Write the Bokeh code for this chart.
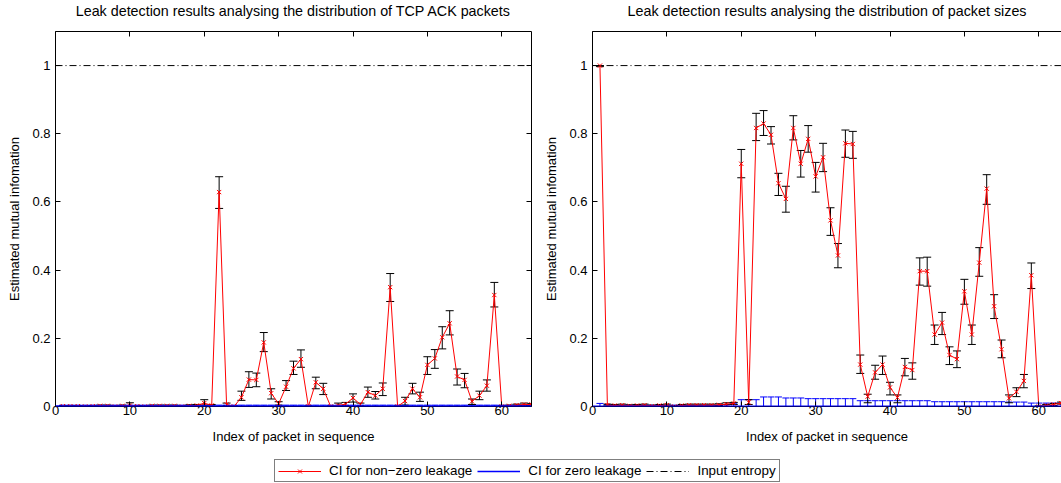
from bokeh.plotting import figure
from bokeh.layouts import column, row
from bokeh.models import (Range1d, LinearAxis, FixedTicker, Span, Legend, LegendItem,
                          ColumnDataSource)
from bokeh.embed import file_html
from bokeh.resources import INLINE

# ---------------- data ----------------
packet_index = list(range(1, 65))

titles = ["Leak detection results analysing the distribution of TCP ACK packets",
          "Leak detection results analysing the distribution of packet sizes"]
x_label = "Index of packet in sequence"
y_label = "Estimated mutual infomation"
legend_labels = ["CI for non\u2212zero leakage", "CI for zero leakage", "Input entropy"]

x_ticks = [0, 10, 20, 30, 40, 50, 60]
x_tick_labels = ["0", "10", "20", "30", "40", "50", "60"]
y_ticks = [0, 0.2, 0.4, 0.6, 0.8, 1]
y_tick_labels = ["0", "0.2", "0.4", "0.6", "0.8", "1"]
input_entropy = 1.0

# TCP ACK panel: estimate, CI lower, CI upper, zero-leakage CI upper
ack_est = [0.001, 0.001, 0.001, 0.000, 0.001, 0.002, 0.002, 0.000, 0.002, 0.003,
           0.001, 0.000, 0.002, 0.002, 0.002, 0.002, 0.000, 0.002, 0.003, 0.010,
           0.003, 0.629, 0.006, 0.000, 0.027, 0.079, 0.078, 0.188, 0.039, 0.008,
           0.058, 0.112, 0.139, 0.000, 0.071, 0.052, 0.000, 0.003, 0.007, 0.025,
           0.006, 0.042, 0.032, 0.052, 0.350, 0.000, 0.016, 0.052, 0.027, 0.122,
           0.141, 0.203, 0.244, 0.088, 0.078, 0.015, 0.032, 0.061, 0.327, 0.000,
           0.002, 0.004, 0.006, 0.006]
ack_lo = [0.000, 0.000, 0.000, 0.000, 0.000, 0.001, 0.001, 0.000, 0.001, 0.000,
          0.000, 0.000, 0.001, 0.001, 0.001, 0.001, 0.000, 0.001, 0.001, 0.004,
          0.001, 0.581, 0.003, 0.000, 0.018, 0.056, 0.058, 0.161, 0.022, 0.004,
          0.047, 0.094, 0.115, 0.000, 0.052, 0.035, 0.000, 0.001, 0.003, 0.013,
          0.002, 0.027, 0.022, 0.032, 0.308, 0.000, 0.004, 0.037, 0.015, 0.094,
          0.112, 0.169, 0.210, 0.063, 0.055, 0.006, 0.020, 0.045, 0.292, 0.000,
          0.001, 0.002, 0.003, 0.003]
ack_hi = [0.003, 0.003, 0.003, 0.002, 0.003, 0.004, 0.004, 0.002, 0.004, 0.011,
          0.003, 0.002, 0.004, 0.004, 0.004, 0.004, 0.002, 0.005, 0.006, 0.020,
          0.006, 0.674, 0.010, 0.002, 0.045, 0.102, 0.098, 0.217, 0.052, 0.014,
          0.076, 0.133, 0.166, 0.002, 0.086, 0.068, 0.002, 0.010, 0.012, 0.037,
          0.010, 0.057, 0.044, 0.069, 0.390, 0.002, 0.027, 0.068, 0.042, 0.146,
          0.167, 0.234, 0.281, 0.110, 0.097, 0.022, 0.045, 0.078, 0.364, 0.002,
          0.004, 0.007, 0.010, 0.009]
ack_zero_hi = [0.004, 0.004, 0.004, 0.004, 0.004, 0.004, 0.004, 0.004, 0.004, 0.004,
               0.004, 0.004, 0.004, 0.004, 0.004, 0.004, 0.004, 0.004, 0.004, 0.004,
               0.004, 0.004, 0.004, 0.004, 0.004, 0.004, 0.004, 0.004, 0.004, 0.004,
               0.004, 0.004, 0.004, 0.004, 0.004, 0.004, 0.004, 0.004, 0.004, 0.004,
               0.004, 0.004, 0.004, 0.004, 0.004, 0.004, 0.004, 0.004, 0.004, 0.004,
               0.004, 0.004, 0.004, 0.004, 0.004, 0.004, 0.004, 0.004, 0.004, 0.004,
               0.004, 0.004, 0.004, 0.004]

# packet size panel
size_est = [1.000, 0.004, 0.003, 0.004, 0.002, 0.003, 0.004, 0.001, 0.003, 0.004,
            0.000, 0.003, 0.004, 0.004, 0.004, 0.004, 0.005, 0.007, 0.009, 0.712,
            0.012, 0.817, 0.830, 0.797, 0.655, 0.609, 0.817, 0.712, 0.785, 0.675,
            0.731, 0.546, 0.443, 0.772, 0.770, 0.123, 0.029, 0.100, 0.123, 0.056,
            0.026, 0.116, 0.107, 0.397, 0.397, 0.211, 0.246, 0.151, 0.139, 0.338,
            0.211, 0.422, 0.639, 0.294, 0.168, 0.024, 0.043, 0.075, 0.385, 0.000,
            0.003, 0.006, 0.010, 0.012]
size_lo = [0.997, 0.002, 0.001, 0.002, 0.000, 0.001, 0.002, 0.000, 0.001, 0.002,
           0.000, 0.001, 0.002, 0.002, 0.002, 0.002, 0.003, 0.005, 0.006, 0.671,
           0.006, 0.780, 0.795, 0.770, 0.619, 0.570, 0.782, 0.673, 0.746, 0.629,
           0.689, 0.502, 0.407, 0.731, 0.728, 0.097, 0.011, 0.080, 0.094, 0.034,
           0.011, 0.090, 0.080, 0.356, 0.353, 0.182, 0.211, 0.123, 0.114, 0.300,
           0.182, 0.382, 0.593, 0.258, 0.143, 0.011, 0.029, 0.055, 0.346, 0.000,
           0.001, 0.003, 0.007, 0.009]
size_hi = [1.000, 0.007, 0.006, 0.007, 0.005, 0.006, 0.007, 0.004, 0.006, 0.007,
           0.003, 0.006, 0.007, 0.007, 0.007, 0.007, 0.008, 0.011, 0.012, 0.754,
           0.020, 0.860, 0.868, 0.821, 0.684, 0.646, 0.853, 0.751, 0.824, 0.716,
           0.772, 0.583, 0.478, 0.811, 0.807, 0.151, 0.036, 0.121, 0.148, 0.071,
           0.034, 0.141, 0.128, 0.436, 0.438, 0.239, 0.276, 0.175, 0.163, 0.373,
           0.239, 0.466, 0.680, 0.328, 0.195, 0.034, 0.055, 0.094, 0.421, 0.002,
           0.006, 0.009, 0.013, 0.015]
size_zero_hi = [0.009, 0.006, 0.004, 0.004, 0.004, 0.004, 0.004, 0.004, 0.004, 0.004,
                0.004, 0.004, 0.004, 0.004, 0.004, 0.004, 0.004, 0.006, 0.008, 0.020,
                0.020, 0.020, 0.028, 0.028, 0.028, 0.025, 0.025, 0.025, 0.023, 0.023,
                0.023, 0.023, 0.023, 0.023, 0.023, 0.017, 0.017, 0.017, 0.017, 0.017,
                0.017, 0.017, 0.017, 0.017, 0.017, 0.014, 0.014, 0.014, 0.014, 0.014,
                0.014, 0.014, 0.014, 0.014, 0.014, 0.013, 0.013, 0.013, 0.010, 0.010,
                0.010, 0.010, 0.010, 0.010]

# ---------------- style ----------------
FONT = "Liberation Sans"
FS = "13px"
RED = "#ff0000"
BLUE = "#0000ff"
DASHDOT = "7 3 1 3"
TITLE_H = 25
PANEL_H = 427


def style_axis(ax, ticks, labels, show_labels):
    ax.ticker = FixedTicker(ticks=ticks)
    ax.major_tick_in = 5
    ax.major_tick_out = 0
    ax.minor_tick_in = 0
    ax.minor_tick_out = 0
    ax.axis_line_color = "black"
    ax.major_tick_line_color = "black"
    ax.major_label_text_font = FONT
    ax.major_label_text_color = "black"
    ax.axis_label_text_font = FONT
    ax.axis_label_text_font_size = FS
    ax.axis_label_text_font_style = "normal"
    ax.axis_label_text_color = "black"
    if show_labels:
        ax.major_label_overrides = {t: l for t, l in zip(ticks, labels)}
        ax.major_label_text_font_size = FS
    else:
        ax.major_label_overrides = {t: "" for t in ticks}
        ax.major_label_text_font_size = "1px"
        ax.major_label_standoff = 0


def title_strip(title, width, border_left, border_right):
    t = figure(width=width, height=TITLE_H, x_axis_type=None, y_axis_type=None,
               output_backend="svg", toolbar_location=None, min_border_left=border_left,
               min_border_right=border_right, min_border_top=0, min_border_bottom=0)
    t.outline_line_color = None
    t.grid.visible = False
    t.title.text = title
    t.title.align = "center"
    t.title.text_font = FONT
    t.title.text_font_size = "14.3px"
    t.title.text_font_style = "normal"
    t.title.text_color = "black"
    t.title.standoff = 0
    return t


def panel(est, lo, hi, zhi, width, border_left, border_right, x_end, right_axis, blue_w):
    src = ColumnDataSource(dict(x=packet_index, est=est, lo=lo, hi=hi, zhi=zhi))
    p = figure(width=width, height=PANEL_H, x_range=Range1d(0, x_end), y_range=Range1d(0, 1.1),
               x_axis_type=None, y_axis_type=None, output_backend="svg",
               toolbar_location=None, min_border_left=border_left,
               min_border_right=border_right, min_border_top=6, min_border_bottom=46)
    p.outline_line_color = None
    p.background_fill_color = "white"
    p.border_fill_color = "white"

    bottom = LinearAxis(axis_label=x_label)
    style_axis(bottom, x_ticks, x_tick_labels, True)
    bottom.major_label_standoff = -1
    bottom.axis_label_standoff = 11
    p.add_layout(bottom, "below")
    left = LinearAxis(axis_label=y_label)
    style_axis(left, y_ticks, y_tick_labels, True)
    left.major_label_standoff = 5
    left.axis_label_standoff = 7
    p.add_layout(left, "left")
    top = LinearAxis()
    style_axis(top, x_ticks, x_tick_labels, False)
    p.add_layout(top, "above")
    if right_axis:
        r = LinearAxis()
        style_axis(r, y_ticks, y_tick_labels, False)
        p.add_layout(r, "right")

    # zero-leakage CI (blue)
    p.segment(x0="x", y0=0, x1="x", y1="zhi", source=src, line_color=BLUE, line_width=1)
    p.scatter(x="x", y="zhi", source=src, marker="dash", size=7, line_color=BLUE, line_width=1)
    # non-zero leakage CI (black bars)
    p.segment(x0="x", y0="lo", x1="x", y1="hi", source=src, line_color="black", line_width=1)
    p.scatter(x="x", y="hi", source=src, marker="dash", size=8, line_color="black", line_width=1)
    p.scatter(x="x", y="lo", source=src, marker="dash", size=8, line_color="black", line_width=1)
    # estimate (red)
    p.line(x="x", y="est", source=src, line_color=RED, line_width=1)
    p.scatter(x="x", y="est", source=src, marker="x", size=6, line_color=RED, line_width=1)
    # zero line of the zero-leakage CI, drawn over the axis line
    p.add_layout(Span(location=0, dimension="width", line_color=BLUE, line_width=blue_w,
                      level="overlay"))
    # input entropy
    p.add_layout(Span(location=input_entropy, dimension="width", line_color="black",
                      line_width=1, line_dash=DASHDOT))
    return p


t1 = title_strip(titles[0], 539, 55, 8)
t2 = title_strip(titles[1], 522, 53, 0)
p1 = panel(ack_est, ack_lo, ack_hi, ack_zero_hi, 539, 55, 8, 64, True, 2.5)
p2 = panel(size_est, size_lo, size_hi, size_zero_hi, 522, 53, 0, 469 / 7.4375, False, 2)

# legend strip (its dummy renderers lie outside its visible ranges)
leg = figure(width=1061, height=31, x_range=Range1d(-2, -1), y_range=Range1d(-2, -1),
             x_axis_type=None, y_axis_type=None, output_backend="svg",
             toolbar_location=None, min_border=0)
leg.outline_line_color = None
leg.grid.visible = False
r_red = leg.line(x=packet_index, y=ack_est, line_color=RED, line_width=1)
r_redm = leg.scatter(x=packet_index, y=ack_est, marker="x", size=6, line_color=RED, line_width=1)
r_blue = leg.line(x=packet_index, y=ack_zero_hi, line_color=BLUE, line_width=1.3)
r_ent = leg.line(x=packet_index, y=size_est, line_color="black", line_width=1, line_dash=DASHDOT)
legend = Legend(items=[LegendItem(label=legend_labels[0], renderers=[r_red, r_redm]),
                       LegendItem(label=legend_labels[1], renderers=[r_blue]),
                       LegendItem(label=legend_labels[2], renderers=[r_ent])],
                orientation="horizontal", location=(274, 1), glyph_width=43,
                glyph_height=14, label_height=14, label_standoff=8, spacing=5,
                padding=3, margin=0, border_line_color="black", border_line_width=1,
                label_text_font=FONT, label_text_font_size="13.4px", label_text_color="black",
                background_fill_color="white", background_fill_alpha=1.0)
leg.add_layout(legend)

layout = column(row(t1, t2), row(p1, p2), leg)
open("out.html", "w").write(file_html(layout, INLINE))
